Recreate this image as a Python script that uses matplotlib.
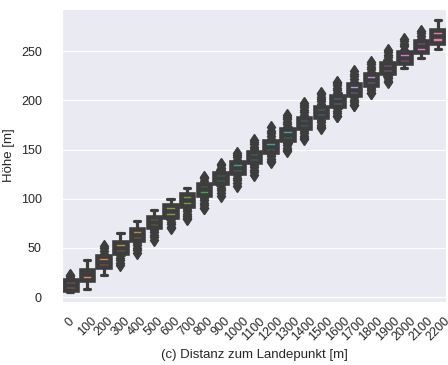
import matplotlib
matplotlib.use('Agg')
import matplotlib.pyplot as plt
import seaborn as sns

sns.set_style('darkgrid')
plt.rcParams['font.family'] = ['Liberation Sans', 'DejaVu Sans']

# Abstand zum Landepunkt (Kategorien) und Hoehenverteilung je Kategorie
distanz = ['0', '100', '200', '300', '400', '500', '600', '700', '800', '900', '1000',
           '1100', '1200', '1300', '1400', '1500', '1600', '1700', '1800', '1900',
           '2000', '2100', '2200']

q1 = [7, 17, 31, 45, 58, 71, 81.5, 92.5, 103.5, 116, 126.5, 137, 148, 159.5,
      171.5, 183, 194.5, 205.5, 215.5, 227.5, 238.5, 249.5, 258.5]
median = [12, 23, 36, 50, 63.5, 76, 87.5, 98.5, 109.5, 121, 131.5, 142.5, 153, 165,
          177, 188, 199.5, 211, 221, 233, 243.5, 255, 266]
q3 = [17, 28, 41.5, 56, 69, 81.5, 93.5, 104.5, 115.5, 126.5, 137, 148, 158.5, 170.5,
      182.5, 193.5, 205, 216.5, 226.5, 238.5, 249, 260, 272]
whis_lo = [5, 8.5, 22, 43, 55.5, 68.5, 79, 90, 101, 113.5, 124, 134.5, 145.5, 157,
           169, 180.5, 192, 203, 213, 225, 232.5, 243, 252.5]
whis_hi = [19, 37.5, 44, 65.5, 77.5, 88.5, 99.5, 111, 118, 129, 139.5, 150.5, 161, 173,
           185, 196, 207.5, 219, 229, 241, 251.5, 262.5, 281.5]

ausreisser = [
    [21, 22],
    [],
    [47, 49.5, 52],
    [40, 37.5, 35, 33],
    [52.5, 50, 47.5, 45],
    [66, 63.5, 61, 58],
    [76.5, 74, 71.5, 70],
    [87.5, 85, 82.5, 80, 79],
    [121, 122, 98.5, 96, 93.5, 91, 90.5],
    [131.5, 134, 135.5, 111, 108.5, 106, 103],
    [142, 144.5, 147, 121.5, 119, 116.5, 113],
    [153, 155.5, 158, 160, 132, 129.5, 127, 124.5],
    [164, 166.5, 169, 172.5, 143, 140.5, 138, 137],
    [176, 178.5, 181, 183.5, 185, 154.5, 152, 149.5, 148.5],
    [188, 190.5, 193, 195.5, 197, 166.5, 164, 161.5, 161],
    [199, 201.5, 204, 206.5, 208, 178, 175.5, 173, 172],
    [210.5, 213, 215.5, 218, 219, 189.5, 187, 184.5, 184],
    [222, 224.5, 227, 229.5, 200.5, 198, 195.5, 195],
    [232, 234.5, 237, 239.5, 210.5, 208, 207.5],
    [244, 246.5, 249, 251, 222.5, 220, 219],
    [255, 257.5, 260, 262],
    [266, 268.5, 270.5],
    [],
]

stats = []
for i in range(len(distanz)):
    stats.append(dict(med=median[i], q1=q1[i], q3=q3[i],
                      whislo=whis_lo[i], whishi=whis_hi[i],
                      fliers=ausreisser[i]))

fig = plt.figure(figsize=(4.48, 3.65), dpi=100)
ax = fig.add_axes([62 / 448, 63 / 365, 384 / 448, 293 / 365])

gray = '#3d3d3d'
bp = ax.bxp(stats, positions=range(len(distanz)), widths=0.75, patch_artist=True,
            boxprops=dict(edgecolor=gray, linewidth=3.3),
            medianprops=dict(color=gray, linewidth=3.3),
            whiskerprops=dict(color=gray, linewidth=2.3),
            capprops=dict(color=gray, linewidth=2.3),
            flierprops=dict(marker='d', markersize=6, markerfacecolor=gray,
                            markeredgecolor=gray, markeredgewidth=1))

farben = sns.color_palette('husl', len(distanz))
for box, c in zip(bp['boxes'], farben):
    box.set_facecolor(sns.desaturate(c, 0.75))

ax.set_xlim(-0.5, len(distanz) - 0.5)
ax.set_ylim(-5, 293)
ax.set_yticks([0, 50, 100, 150, 200, 250])
ax.set_xticks(range(len(distanz)))
ax.set_xticklabels(distanz, rotation=45)
ax.xaxis.grid(False)
ax.tick_params(axis='y', labelsize=9, pad=11)
ax.tick_params(axis='x', labelsize=9, pad=6)

ax.set_xlabel('(c) Distanz zum Landepunkt [m]', fontsize=9.5)
ax.set_ylabel('Höhe [m]', fontsize=9.5)

fig.savefig('out.png', dpi=100)
